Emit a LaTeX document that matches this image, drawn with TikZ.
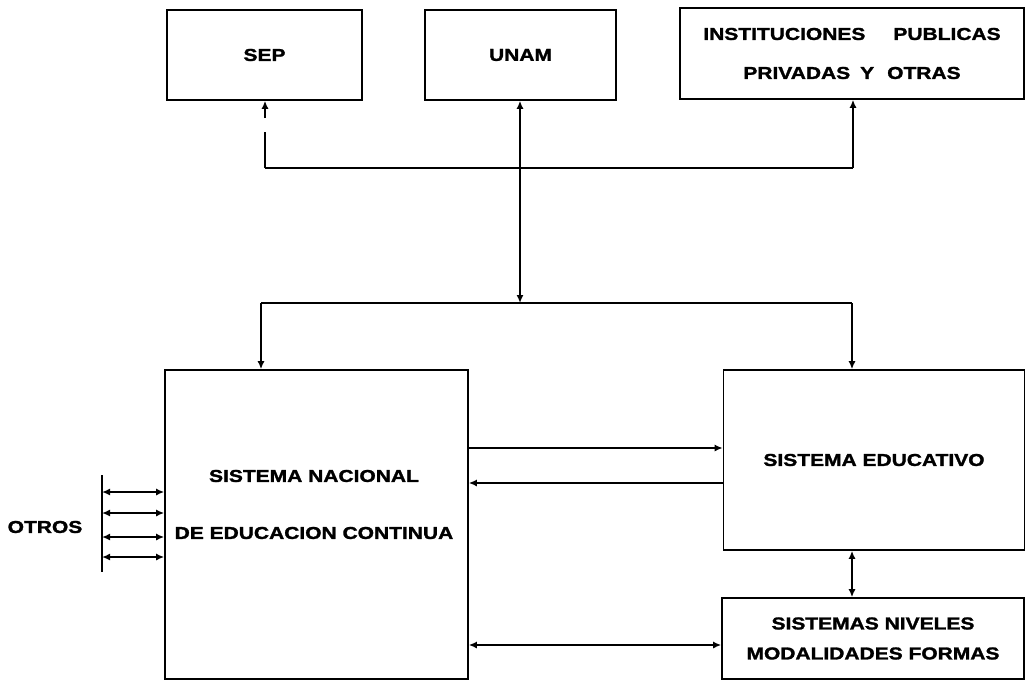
\documentclass[tikz,border=0pt]{standalone}
\usepackage{fontspec}
\setmainfont{Liberation Sans}[FakeStretch=1.22,BoldFeatures={FakeBold=1.6}]
\usetikzlibrary{arrows.meta,calc}
\newcommand\lbfont{\bfseries\fontsize{17.2}{20}\selectfont}
\begin{document}
\begin{tikzpicture}[x=1pt,y=-1pt,
  box/.style={draw,line width=1.6pt,inner sep=0pt,font=\lbfont,align=center},
  lbl/.style={font=\lbfont,align=center,inner sep=0pt},
  conn/.style={line width=1.6pt},
  >={Latex[length=8pt,width=7pt]}]
\fill[white] (0,0) rectangle (1026,683);
\path[use as bounding box] (0,0) rectangle (1026,683);
% top boxes
\node[box,minimum width=195pt,minimum height=90pt] (sep) at (264.5,55) {SEP};
\node[box,minimum width=191pt,minimum height=90pt] (unam) at (520.5,55) {UNAM};
\node[box,minimum width=344pt,minimum height=91pt,font={\bfseries\fontsize{17.2}{39}\selectfont}] (inst) at (852,53.5)
  {INSTITUCIONES\hspace{28pt}PUBLICAS\\PRIVADAS\hspace{10pt}Y\hspace{13pt}OTRAS};
% lower boxes
\node[box,minimum width=303pt,minimum height=309pt] (snec) at (316.5,524.5) {};
\node[lbl,font={\bfseries\fontsize{17.2}{57}\selectfont}] (sneclbl) at (314,504.5) {SISTEMA NACIONAL\\DE EDUCACION CONTINUA};
\node[box,minimum width=301pt,minimum height=180pt] (se) at (874,460) {SISTEMA EDUCATIVO};
\node[box,minimum width=302pt,minimum height=81pt,font={\bfseries\fontsize{17.2}{30}\selectfont}] (snm) at (873,638.5)
  {SISTEMAS NIVELES\\MODALIDADES FORMAS};
\node[lbl] (otros) at (45,527) {OTROS};
% top bus
\coordinate (tbL) at (265,168);
\coordinate (tbR) at (853,168);
\draw[conn] (tbL) -- (tbR);
\draw[conn] (tbL) -- ++(0,-36);
\draw[conn,->] ($(tbL)+(0,-50)$) -- (tbL |- sep.south);
\draw[conn,->] (tbR) -- (tbR |- inst.south);
% lower bus
\coordinate (lbM) at (520,303);
\coordinate (lbL) at (261,303);
\coordinate (lbR) at (852,303);
\draw[conn,<->] (lbM) -- (lbM |- unam.south);
\draw[conn] (lbL) -- (lbR);
\draw[conn,->] (lbL) -- (lbL |- snec.north);
\draw[conn,->] (lbR) -- (lbR |- se.north);
% SNEC <-> SE, SNM
\coordinate (ya) at (0,448);
\coordinate (yb) at (0,483);
\coordinate (yc) at (0,645);
\draw[conn,->] (snec.east |- ya) -- (se.west |- ya);
\draw[conn,->] (se.west |- yb) -- (snec.east |- yb);
\draw[conn,<->] (snec.east |- yc) -- (snm.west |- yc);
\draw[conn,<->] (lbR |- se.south) -- (lbR |- snm.north);
% otros
\coordinate (otA) at (102,475);
\coordinate (otB) at (102,572);
\draw[conn] (otA) -- (otB);
\foreach \yy in {492,513,537,557}{
  \coordinate (r) at (102,\yy);
  \draw[conn,<->] (r) -- (r -| snec.west);
}
\end{tikzpicture}
\end{document}
